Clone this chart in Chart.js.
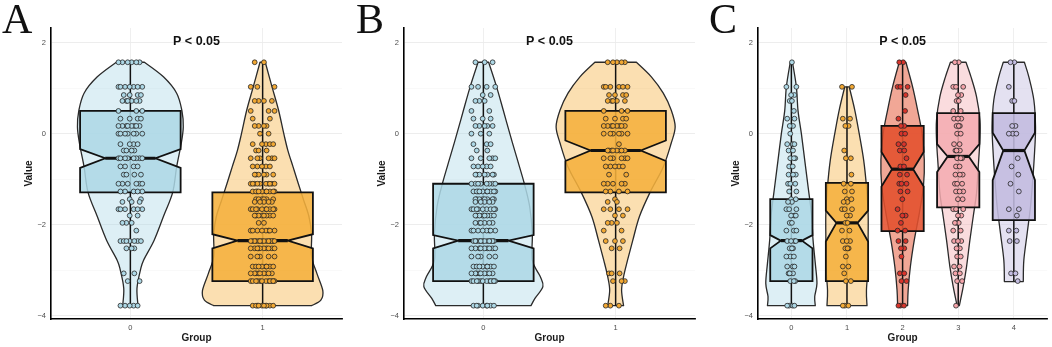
<!DOCTYPE html>
<html lang="en">

<head>
  <meta charset="UTF-8" />
  <title>Violin + notched box plots</title>
  <script src="https://cdn.jsdelivr.net/npm/chart.js"></script>
  <style>
    body { margin: 0; background: #fff; }
    .wrap { position: relative; width: 1052px; height: 347px; overflow: hidden; }
    .panel { position: absolute; top: 0; }
    .tag { position: absolute; top: -2px; font-family: 'Liberation Serif', 'Times New Roman', serif; font-size: 42px; line-height: 42px; color: #111; }
  </style>
</head>

<body>
  <div class="wrap">
    <canvas id="chartA" class="panel" style="left:0px" width="350" height="347"></canvas>
    <canvas id="chartB" class="panel" style="left:353px" width="350" height="347"></canvas>
    <canvas id="chartC" class="panel" style="left:707px" width="345" height="347"></canvas>
    <div class="tag" style="left:2px">A</div>
    <div class="tag" style="left:356px">B</div>
    <div class="tag" style="left:709px">C</div>
  </div>

  <script>
    // ---- data ----
    const pLabel = 'P < 0.05';
    const yTicks = [-4, -2, 0, 2];
    const yTickLabels = ['\u22124', '\u22122', '0', '2'];
    const yMinor = [-3, -1, 1];

    // distinct value levels seen in the point clouds
    const levels = [1.57, 1.03, 0.85, 0.72, 0.5, 0.33, 0.17, 0, -0.23, -0.37, -0.54, -0.72, -0.9, -1.1,
      -1.27, -1.44, -1.5, -1.66, -1.8, -1.96, -2.13, -2.36, -2.52, -2.7, -2.92, -3.07, -3.24, -3.78];

    // panel A
    const groupsA = ['0', '1'];
    const countsA0 = [6, 7, 4, 6, 3, 4, 8, 7, 4, 4, 8, 4, 4, 6, 5, 2, 3, 6, 2, 3, 1, 7, 3, 0, 0, 2, 2, 5];
    const countsA1 = [2, 3, 0, 4, 3, 2, 4, 2, 5, 3, 6, 5, 6, 10, 10, 6, 5, 10, 8, 2, 8, 14, 10, 5, 8, 9, 12, 10];
    const q1A = [-1.29, -3.24], medA = [-0.54, -2.35], q3A = [0.5, -1.29];
    const notchLoA = [-0.75, -2.52], notchHiA = [-0.34, -2.21];
    const whiskLoA = [-3.78, -3.78], whiskHiA = [1.57, 1.57];
    const violinA0 = [[-3.78, 0.058], [-3.4, 0.05], [-3.0, 0.076], [-2.78, 0.1], [-2.34, 0.18], [-1.82, 0.25],
      [-1.29, 0.32], [-0.73, 0.35], [-0.21, 0.385], [0.15, 0.4], [0.5, 0.39], [0.89, 0.35], [1.25, 0.25], [1.57, 0.106]];
    const violinA1 = [[-3.78, 0.37], [-3.66, 0.44], [-3.45, 0.455], [-3.07, 0.41], [-2.7, 0.37], [-2.2, 0.37],
      [-1.82, 0.35], [-1.46, 0.31], [-1.1, 0.27], [-0.73, 0.23], [-0.36, 0.19], [0, 0.16], [0.52, 0.12], [1.04, 0.07], [1.57, 0.02]];

    // panel B
    const groupsB = ['0', '1'];
    const countsB0 = [3, 4, 2, 3, 2, 3, 5, 3, 3, 2, 5, 5, 7, 8, 10, 8, 5, 9, 8, 6, 8, 12, 9, 5, 8, 9, 12, 8];
    const countsB1 = [5, 6, 4, 5, 3, 4, 8, 6, 1, 8, 6, 5, 2, 5, 4, 1, 2, 4, 2, 3, 2, 3, 2, 0, 0, 3, 3, 3];
    const q1B = [-3.24, -1.29], medB = [-2.35, -0.37], q3B = [-1.1, 0.5];
    const notchLoB = [-2.52, -0.6], notchHiB = [-2.23, -0.15];
    const whiskLoB = [-3.78, -3.78], whiskHiB = [1.57, 1.57];
    const violinB0 = [[-3.78, 0.36], [-3.62, 0.39], [-3.36, 0.45], [-3.14, 0.43], [-2.78, 0.37], [-2.19, 0.37],
      [-1.6, 0.35], [-1.1, 0.31], [-0.5, 0.25], [0, 0.2], [0.52, 0.15], [1.03, 0.1], [1.57, 0.04]];
    const violinB1 = [[-3.78, 0.06], [-3.44, 0.045], [-3.14, 0.06], [-2.78, 0.09], [-2.34, 0.13], [-1.82, 0.18],
      [-1.29, 0.26], [-0.73, 0.36], [-0.21, 0.42], [0.15, 0.45], [0.52, 0.42], [0.89, 0.36], [1.25, 0.27], [1.57, 0.157]];

    // panel C
    const groupsC = ['0', '1', '2', '3', '4'];
    const countsC0 = [1, 2, 2, 2, 1, 2, 2, 1, 3, 2, 3, 2, 3, 3, 2, 2, 2, 3, 3, 2, 3, 4, 3, 3, 3, 3, 3, 4];
    const countsC1 = [0, 2, 0, 0, 0, 2, 2, 0, 0, 1, 2, 0, 1, 2, 2, 2, 2, 3, 2, 2, 2, 3, 3, 1, 2, 1, 2, 3];
    const countsC2 = [2, 3, 1, 0, 1, 1, 2, 2, 2, 2, 1, 2, 2, 3, 2, 1, 0, 1, 2, 1, 2, 2, 2, 1, 0, 2, 2, 3];
    const countsC3 = [2, 3, 2, 2, 2, 3, 3, 2, 2, 3, 3, 2, 3, 3, 3, 2, 0, 3, 2, 3, 2, 3, 2, 2, 2, 2, 2, 1];
    const countsC4 = [2, 1, 0, 2, 0, 0, 2, 3, 0, 0, 1, 1, 1, 1, 1, 0, 0, 2, 1, 0, 2, 2, 0, 0, 0, 2, 1, 0];
    const q1C = [-3.24, -3.24, -2.14, -1.62, -1.9], medC = [-2.35, -1.96, -0.78, -0.5, -0.37], q3C = [-1.44, -1.08, 0.17, 0.45, 0.45];
    const notchLoC = [-2.52, -2.37, -1.16, -0.84, -1.02], notchHiC = [-2.23, -1.69, -0.4, -0.23, 0.02];
    const whiskLoC = [-3.78, -3.78, -3.78, -3.78, -3.24], whiskHiC = [1.57, 1.03, 1.57, 1.57, 1.57];
    const violinC0 = [[-3.78, 0.43], [-3.58, 0.42], [-3.29, 0.46], [-2.85, 0.43], [-2.34, 0.39], [-1.75, 0.36],
      [-1.16, 0.3], [-0.58, 0.24], [0, 0.18], [0.5, 0.12], [1.03, 0.09], [1.57, 0.02]];
    const violinC1 = [[-3.78, 0.36], [-3.44, 0.35], [-2.92, 0.38], [-2.34, 0.38], [-1.75, 0.38], [-1.16, 0.35],
      [-0.58, 0.3], [0, 0.22], [0.52, 0.14], [1.03, 0.04]];
    const violinC2 = [[-3.78, 0.09], [-3.44, 0.1], [-2.92, 0.14], [-2.34, 0.21], [-1.75, 0.3], [-1.16, 0.375],
      [-0.58, 0.39], [0, 0.35], [0.52, 0.27], [1.03, 0.18], [1.57, 0.06]];
    const violinC3 = [[-3.78, 0.02], [-3.36, 0.09], [-2.92, 0.15], [-2.34, 0.21], [-1.82, 0.27], [-1.3, 0.33],
      [-0.73, 0.36], [-0.14, 0.39], [0.3, 0.39], [0.81, 0.33], [1.25, 0.23], [1.57, 0.14]];
    const violinC4 = [[-3.25, 0.17], [-2.78, 0.18], [-2.19, 0.24], [-1.6, 0.3], [-1.02, 0.34], [-0.36, 0.375],
      [0.15, 0.39], [0.74, 0.36], [1.25, 0.27], [1.57, 0.19]];

    // ---- styling ----
    const blue = { violin: 'rgba(173,216,230,0.42)', box: 'rgba(173,216,230,0.85)', point: '#add8e6' };
    const orange = { violin: 'rgba(245,176,60,0.40)', box: 'rgba(245,176,60,0.88)', point: '#f2a833' };
    const red = { violin: 'rgba(228,80,45,0.50)', box: 'rgba(228,80,45,0.88)', point: '#d9342b' };
    const pink = { violin: 'rgba(244,172,176,0.42)', box: 'rgba(244,172,176,0.85)', point: '#f5a3a9' };
    const lavender = { violin: 'rgba(195,188,224,0.45)', box: 'rgba(195,188,224,0.88)', point: '#c4bde2' };

    const jitter = [0.1, -0.6, 0.7, -0.2, 0.45, -0.9, 0.9, -0.4, 0.25, -0.75, 0.55, -0.05, 0.8, -0.5, 0.3, -0.3];
    const jitterWidth = 0.1;
    const boxWidth = 0.76;

    Chart.defaults.font.family = "'Liberation Sans', Arial, sans-serif";

    function buildPoints(counts, g) {
      const pts = [];
      counts.forEach((c, li) => {
        for (let k = 0; k < c; k++) {
          pts.push({ x: g + jitter[(k + li * 5) % jitter.length] * jitterWidth, y: levels[li] });
        }
      });
      return pts;
    }

    function curveThrough(ctx, pts) {
      for (let i = 0; i < pts.length - 1; i++) {
        const p0 = pts[i - 1] || pts[i], p1 = pts[i], p2 = pts[i + 1], p3 = pts[i + 2] || p2;
        ctx.bezierCurveTo(p1.x + (p2.x - p0.x) / 6, p1.y + (p2.y - p0.y) / 6,
          p2.x - (p3.x - p1.x) / 6, p2.y - (p3.y - p1.y) / 6, p2.x, p2.y);
      }
    }

    function violinBoxPlugin(violins, box, colors) {
      return {
        id: 'violinBox',
        beforeDatasetsDraw(chart) {
          const { ctx, scales: { x, y } } = chart;
          ctx.save();
          violins.forEach((prof, g) => {
            const right = prof.map(([v, w]) => ({ x: x.getPixelForValue(g + w), y: y.getPixelForValue(v) }));
            const left = prof.map(([v, w]) => ({ x: x.getPixelForValue(g - w), y: y.getPixelForValue(v) }));
            ctx.beginPath();
            ctx.moveTo(left[0].x, left[0].y);
            ctx.lineTo(right[0].x, right[0].y);
            curveThrough(ctx, right);
            ctx.lineTo(left[left.length - 1].x, left[left.length - 1].y);
            curveThrough(ctx, left.slice().reverse());
            ctx.closePath();
            ctx.fillStyle = colors[g].violin;
            ctx.fill();
            ctx.lineWidth = 1.3;
            ctx.strokeStyle = '#2a2a2a';
            ctx.lineJoin = 'round';
            ctx.stroke();
          });

          violins.forEach((prof, g) => {
            const cx = x.getPixelForValue(g);
            // whisker
            ctx.beginPath();
            ctx.moveTo(cx, y.getPixelForValue(box.whiskHi[g]));
            ctx.lineTo(cx, y.getPixelForValue(box.whiskLo[g]));
            ctx.lineWidth = 1.5;
            ctx.strokeStyle = '#111';
            ctx.stroke();

            // notched box
            const x0 = x.getPixelForValue(g - boxWidth / 2), x1 = x.getPixelForValue(g + boxWidth / 2);
            const inset = (x1 - x0) * 0.25;
            const yq1 = y.getPixelForValue(box.q1[g]), yq3 = y.getPixelForValue(box.q3[g]);
            const ym = y.getPixelForValue(box.med[g]);
            const ynl = y.getPixelForValue(box.notchLo[g]), ynh = y.getPixelForValue(box.notchHi[g]);
            ctx.beginPath();
            ctx.moveTo(x0, yq3);
            ctx.lineTo(x0, ynh);
            ctx.lineTo(x0 + inset, ym);
            ctx.lineTo(x0, ynl);
            ctx.lineTo(x0, yq1);
            ctx.lineTo(x1, yq1);
            ctx.lineTo(x1, ynl);
            ctx.lineTo(x1 - inset, ym);
            ctx.lineTo(x1, ynh);
            ctx.lineTo(x1, yq3);
            ctx.closePath();
            ctx.fillStyle = colors[g].box;
            ctx.fill();
            ctx.lineWidth = 1.8;
            ctx.lineJoin = 'miter';
            ctx.stroke();

            // median
            ctx.beginPath();
            ctx.moveTo(x0 + inset, ym);
            ctx.lineTo(x1 - inset, ym);
            ctx.lineWidth = 3.2;
            ctx.stroke();
          });
          ctx.restore();
        },
        afterDatasetsDraw(chart) {
          const { ctx, chartArea, scales: { y } } = chart;
          ctx.save();
          ctx.font = "bold 12.5px 'Liberation Sans', Arial, sans-serif";
          ctx.fillStyle = '#111';
          ctx.textAlign = 'center';
          ctx.textBaseline = 'middle';
          ctx.fillText(pLabel, (chartArea.left + chartArea.right) / 2, y.getPixelForValue(2.02));
          ctx.restore();
        }
      };
    }

    function makePanel(id, groups, countList, violins, box, colors, rightPad) {
      const datasets = countList.map((counts, g) => ({
        data: buildPoints(counts, g),
        pointRadius: 2.4,
        pointBorderWidth: 0.8,
        pointBackgroundColor: colors[g].point,
        pointBorderColor: '#262626'
      }));
      const allY = yTicks.concat(yMinor).sort((a, b) => a - b);
      new Chart(document.getElementById(id), {
        type: 'scatter',
        data: { datasets },
        options: {
          responsive: false,
          animation: false,
          events: [],
          layout: { padding: { top: 28, right: rightPad, left: 0, bottom: 0 } },
          plugins: { legend: { display: false }, tooltip: { enabled: false } },
          scales: {
            x: {
              type: 'linear',
              min: -0.6,
              max: groups.length - 0.4,
              afterBuildTicks: s => { s.ticks = groups.map((c, i) => ({ value: i })); },
              afterFit: s => { s.height = 28; },
              ticks: {
                callback: v => groups[v],
                font: { size: 7.5 },
                color: '#4d4d4d',
                padding: 4,
                maxRotation: 0
              },
              grid: { color: '#ebebeb', lineWidth: 0.8, drawTicks: false },
              border: { display: true, color: '#000', width: 1.6 },
              title: {
                display: true, text: 'Group', color: '#1a1a1a',
                font: { size: 10, weight: 'bold' }, padding: { top: 0, bottom: 3 }
              }
            },
            y: {
              min: -4.073,
              max: 2.323,
              afterBuildTicks: s => { s.ticks = allY.map(v => ({ value: v })); },
              afterFit: s => { s.width = 51; },
              ticks: {
                callback: v => { const i = yTicks.indexOf(v); return i < 0 ? '' : yTickLabels[i]; },
                font: { size: 7.5 },
                color: '#4d4d4d',
                padding: 5
              },
              grid: {
                color: c => (yTicks.includes(c.tick.value) ? '#ebebeb' : '#f5f5f5'),
                lineWidth: c => (yTicks.includes(c.tick.value) ? 0.9 : 0.6),
                drawTicks: false
              },
              border: { display: true, color: '#000', width: 1.6 },
              title: {
                display: true, text: 'Value', color: '#1a1a1a',
                font: { size: 10, weight: 'bold' }, padding: { top: 23, bottom: 0 }
              }
            }
          }
        },
        plugins: [violinBoxPlugin(violins, box, colors)]
      });
    }

    makePanel('chartA', groupsA, [countsA0, countsA1], [violinA0, violinA1],
      { q1: q1A, med: medA, q3: q3A, notchLo: notchLoA, notchHi: notchHiA, whiskLo: whiskLoA, whiskHi: whiskHiA },
      [blue, orange], 8);

    makePanel('chartB', groupsB, [countsB0, countsB1], [violinB0, violinB1],
      { q1: q1B, med: medB, q3: q3B, notchLo: notchLoB, notchHi: notchHiB, whiskLo: whiskLoB, whiskHi: whiskHiB },
      [blue, orange], 8);

    makePanel('chartC', groupsC, [countsC0, countsC1, countsC2, countsC3, countsC4],
      [violinC0, violinC1, violinC2, violinC3, violinC4],
      { q1: q1C, med: medC, q3: q3C, notchLo: notchLoC, notchHi: notchHiC, whiskLo: whiskLoC, whiskHi: whiskHiC },
      [blue, orange, red, pink, lavender], 3);
  </script>
</body>

</html>
